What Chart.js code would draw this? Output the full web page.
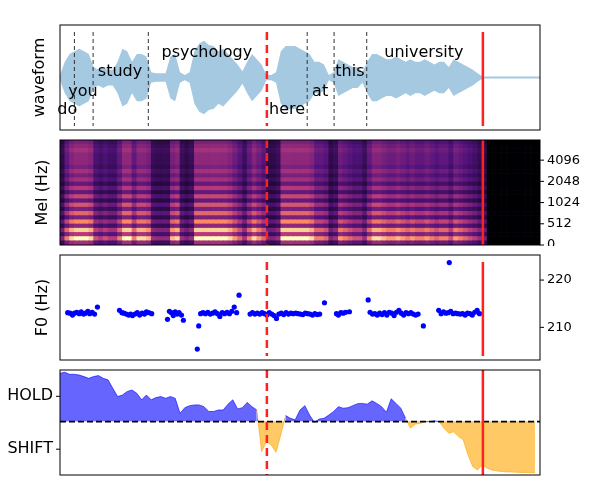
<!DOCTYPE html>
<html>
<head>
<meta charset="utf-8">
<script src="https://cdn.jsdelivr.net/npm/chart.js@4"></script>
<style>
  body { margin: 0; background: #fff; }
  #wrap { position: relative; width: 600px; height: 500px; }
  .panel { position: absolute; left: 0; width: 600px; }
</style>
</head>
<body>
<div id="wrap">
  <div class="panel" style="top:24px;height:107px"><canvas id="wave"></canvas></div>
  <div class="panel" style="top:139px;height:107px"><canvas id="mel"></canvas></div>
  <div class="panel" style="top:251px;height:113px"><canvas id="f0"></canvas></div>
  <div class="panel" style="top:369px;height:107px"><canvas id="vad"></canvas></div>
</div>
<script>
// time axis: 0..100 frames across each panel
const waveEnvelope = [0.05,0.3,0.45,0.5,0.55,0.5,0.45,0.2,0.15,0.2,0.15,0.15,0.3,0.55,0.5,0.3,0.45,0.45,0.4,0.1,
  0.08,0.08,0.08,0.4,0.45,0.1,0.05,0.1,0.5,0.65,0.7,0.62,0.6,0.5,0.55,0.45,0.35,0.25,0.12,0.3,
  0.45,0.35,0.25,0.05,0.05,0.1,0.5,0.6,0.6,0.6,0.55,0.5,0.45,0.3,0.3,0.25,0.05,0.1,0.35,0.3,
  0.25,0.2,0.2,0.1,0.3,0.45,0.45,0.4,0.35,0.35,0.4,0.35,0.3,0.35,0.3,0.3,0.35,0.3,0.25,0.3,
  0.3,0.2,0.35,0.3,0.25,0.2,0.15,0.08,0.02,0.02,0.02,0.02,0.02,0.02,0.02,0.02,0.02,0.02,0.02,0.02,0.02];

const words = ['do', 'you', 'study', 'psychology', 'here', 'at', 'this', 'university'];
const wordX = [1.5, 4.8, 12.5, 30.6, 47.3, 54.2, 60.4, 75.8];
const wordY = [-0.62, -0.28, 0.1, 0.47, -0.62, -0.28, 0.1, 0.47];
const wordBounds = [3.0, 6.9, 18.4, 51.5, 57.1, 63.9];

const currentFrame = 43.1;
const endFrame = 88.1;

const melTickLabels = ['0', '512', '1024', '2048', '4096'];
const melRowProfile = [0.45,1.0,0.5,0.9,0.4,0.75,0.35,0.65,0.35,0.6,0.3,0.55,0.3,0.5,0.3,0.45,0.35,0.45,0.35,0.4,0.4,0.4,0.45,0.4,0.35];

const f0Ticks = [210, 220];
const f0Points = [
  [1.6,213.1],[2.1,213.0],[2.6,212.6],[3.0,213.0],[3.5,213.2],[4.0,212.9],[4.4,213.3],[4.9,212.8],[5.3,213.0],[5.8,213.4],[6.2,212.9],[6.7,213.2],[7.2,212.8],[7.8,214.3],
  [12.4,213.6],[12.9,213.1],[13.3,213.0],[13.8,212.8],[14.3,212.6],[14.7,212.8],[15.1,212.5],[15.6,212.8],[16.1,213.1],[16.6,212.6],[17.1,213.0],[17.6,212.8],[18.0,213.3],[18.5,213.1],[19.1,212.9],
  [22.4,211.7],[22.8,213.4],[23.2,213.1],[23.6,212.5],[24.0,213.3],[24.4,212.8],[24.8,213.1],[25.3,212.6],[25.7,211.5],
  [28.6,205.4],[28.9,210.3],[29.3,212.9],[29.8,213.1],[30.3,212.9],[30.8,213.2],[31.3,212.8],[31.8,213.0],[32.3,213.3],[32.8,212.9],[33.3,212.3],[33.8,213.1],[34.3,212.9],[34.8,213.2],[35.3,212.9],[35.8,213.4],[36.3,214.3],[36.8,213.1],[37.3,216.8],
  [39.6,212.8],[40.1,213.1],[40.6,212.8],[41.1,213.0],[41.6,212.8],[42.1,213.1],[42.6,212.9],[43.1,212.6],[43.6,213.1],[44.1,212.8],[44.6,212.5],[45.1,211.9],[45.6,212.8],[46.1,213.0],[46.6,212.7],[47.1,213.1],[47.6,212.8],[48.1,213.0],[48.6,212.9],[49.1,213.0],[49.6,212.9],[50.1,212.8],[50.6,212.7],[51.1,213.0],[51.6,212.9],[52.1,212.8],[52.6,212.6],[53.1,212.9],[53.6,212.7],[54.1,212.8],[55.1,215.2],
  [57.6,212.9],[58.0,212.6],[58.5,213.1],[59.0,213.0],[59.5,213.2],[60.3,213.3],
  [64.2,215.8],[64.6,213.2],[65.1,212.8],[65.6,212.9],[66.1,212.6],[66.6,213.0],[67.1,212.7],[67.6,213.1],[68.1,212.6],[68.6,213.2],[69.1,213.0],[69.6,212.5],[70.1,213.2],[70.6,213.6],[71.1,213.0],[71.6,212.6],[72.1,213.1],[72.6,212.9],[73.1,213.1],[73.6,212.8],[74.1,212.6],[74.6,212.8],[75.7,210.3],
  [78.9,213.6],[79.4,212.9],[79.9,213.3],[80.4,213.0],[80.9,213.1],[81.1,223.7],[81.4,213.4],[81.9,212.9],[82.4,213.0],[82.9,212.9],[83.4,212.8],[83.9,212.9],[84.4,212.6],[84.9,213.0],[85.4,212.9],[85.9,212.6],[86.4,213.2],[86.9,213.6],[87.4,212.9]
];

const holdShiftTicks = ['HOLD', 'SHIFT'];
const holdShiftTickValues = [1, -1.09];
const holdShift = [1.91,1.95,1.87,1.87,1.84,1.78,1.71,1.78,1.82,1.71,1.65,1.32,0.99,1.05,1.19,1.25,1.12,0.86,1.05,0.86,
  0.95,0.99,0.92,0.99,0.92,0.33,0.55,0.63,0.66,0.66,0.59,0.4,0.4,0.46,0.46,0.69,0.86,0.5,0.55,0.76,
  0.59,0.46,-1.19,-0.79,-0.92,-1.21,-0.53,0.24,0.13,0.07,0.46,0.63,0.26,-0.03,0.1,0.13,0.26,0.4,0.59,0.53,
  0.55,0.63,0.71,0.72,0.69,0.82,0.72,0.59,0.37,0.9,0.72,0.53,0.13,-0.26,-0.1,-0.07,0,0,0.03,0,
  -0.26,-0.46,-0.4,-0.59,-0.72,-1.32,-1.78,-1.91,-1.71,-1.84,-1.91,-1.95,-1.97,-1.99,-1.99,-2.0,-2.01,-2.01,-2.02,-2.02];

const frames = waveEnvelope.map((_, i) => i);

const FONT = 'DejaVu Sans';
Chart.defaults.font.family = FONT;
Chart.defaults.color = '#000';
Chart.defaults.animation = false;

// side axis: fixed width, tick marks only; labels drawn by tickText so they don't pad the panel
const sideAxis = (position, extra = {}) => ({
  position, display: true,
  ticks: { display: false },
  grid: { display: false },
  border: { display: false },
  afterFit: s => { s.width = 60; },
  ...extra
});

// frame, vertical markers, y label and tick labels
const decorations = (label, inset, tickText) => ({
  id: 'decorations',
  afterDatasetsDraw(chart) {
    const { ctx, chartArea: a, scales } = chart;
    const x = scales.x;
    const top = a.top + inset[0], bottom = a.bottom - inset[1];
    const vline = (u, color, width, dash) => {
      const px = x.getPixelForValue(u);
      ctx.save();
      ctx.strokeStyle = color; ctx.lineWidth = width; ctx.setLineDash(dash);
      ctx.beginPath(); ctx.moveTo(px, top); ctx.lineTo(px, bottom); ctx.stroke();
      ctx.restore();
    };
    if (chart.canvas.id === 'wave') wordBounds.forEach(u => vline(u, '#333', 1, [4, 3]));
    vline(currentFrame, '#ff2020', 2.5, [8, 5]);
    vline(endFrame, '#ff2020', 2.5, []);
    ctx.save();
    ctx.strokeStyle = '#000'; ctx.lineWidth = 1;
    ctx.strokeRect(a.left, a.top, a.width, a.height);
    if (tickText) {
      const s = scales[tickText.axis];
      ctx.font = tickText.size + 'px ' + FONT; ctx.textBaseline = 'middle';
      ctx.textAlign = tickText.side === 'right' ? 'left' : 'right';
      tickText.values.forEach((v, i) => {
        const py = s.getPixelForValue(v);
        const edge = tickText.side === 'right' ? a.right : a.left;
        const dir = tickText.side === 'right' ? 1 : -1;
        ctx.beginPath(); ctx.moveTo(edge, py); ctx.lineTo(edge + dir * 4, py); ctx.stroke();
        ctx.fillText(tickText.labels[i], edge + dir * 7, py);
      });
    }
    if (label) {
      ctx.translate(label[1], (a.top + a.bottom) / 2);
      ctx.rotate(-Math.PI / 2);
      ctx.font = '16px ' + FONT; ctx.textAlign = 'center'; ctx.textBaseline = 'middle';
      ctx.fillText(label[0], 0, 0);
    }
    ctx.restore();
  }
});

const wordLabels = {
  id: 'wordLabels',
  afterDatasetsDraw(chart) {
    const { ctx, scales: { x, y } } = chart;
    ctx.save();
    ctx.font = '16px ' + FONT; ctx.textAlign = 'center'; ctx.textBaseline = 'middle';
    words.forEach((w, i) => ctx.fillText(w, x.getPixelForValue(wordX[i]), y.getPixelForValue(wordY[i])));
    ctx.restore();
  }
};

const xAxis = { type: 'linear', min: 0, max: 100, display: false, offset: false };
const baseOpts = (scales) => ({
  responsive: true, maintainAspectRatio: false,
  layout: { padding: { top: 1, bottom: 1, left: 0, right: 0 } },
  plugins: { legend: { display: false }, tooltip: { enabled: false } },
  scales
});

// waveform
new Chart(document.getElementById('wave'), {
  type: 'line',
  data: {
    datasets: [
      { data: waveEnvelope.map((v, i) => ({ x: i, y: v })), borderWidth: 0, pointRadius: 0, fill: '+1', backgroundColor: 'rgb(165,201,225)', tension: 0 },
      { data: waveEnvelope.map((v, i) => ({ x: i, y: -v })), borderWidth: 0, pointRadius: 0, fill: false }
    ]
  },
  options: baseOpts({
    x: xAxis,
    y: sideAxis('left', { min: -1, max: 1 }),
    y2: sideAxis('right')
  }),
  plugins: [wordLabels, decorations(['waveform', 40], [7, 4])]
});

// mel spectrogram as stacked cells
const magma = [[0,0,4],[81,18,124],[183,55,121],[252,137,97],[252,253,191]];
const magmaColor = t => {
  t = Math.max(0, Math.min(1, t)) * 4;
  const i = Math.min(3, Math.floor(t)), f = t - i;
  const c = magma[i].map((v, k) => Math.round(v + (magma[i + 1][k] - v) * f));
  return `rgb(${c[0]},${c[1]},${c[2]})`;
};
const melTop = 4.95;
const rowH = melTop / melRowProfile.length;
const colEnergy = waveEnvelope.map((v, i) => i >= endFrame ? 0 : Math.min(1, 0.3 + v * 1.4));
new Chart(document.getElementById('mel'), {
  type: 'bar',
  data: {
    datasets: melRowProfile.map(p => ({
      data: frames.map(i => ({ x: i + 0.5, y: rowH })),
      backgroundColor: frames.map(i => magmaColor(colEnergy[i] * p)),
      barPercentage: 1, categoryPercentage: 1, borderWidth: 0, yAxisID: 'y2'
    }))
  },
  options: baseOpts({
    x: { ...xAxis, stacked: true },
    y: sideAxis('left', { min: 0, max: melTop }),
    y2: sideAxis('right', { stacked: true, min: 0, max: melTop })
  }),
  plugins: [decorations(['Mel (Hz)', 43], [0, 0],
    { axis: 'y2', side: 'right', size: 13, values: melTickLabels.map((_, i) => i), labels: melTickLabels })]
});

// F0
new Chart(document.getElementById('f0'), {
  type: 'scatter',
  data: { datasets: [{ data: f0Points.map(p => ({ x: p[0], y: p[1] })), pointRadius: 2.6, backgroundColor: '#0000ff', borderWidth: 0, yAxisID: 'y2' }] },
  options: baseOpts({
    x: xAxis,
    y: sideAxis('left', { min: 203.1, max: 225.3 }),
    y2: sideAxis('right', { min: 203.1, max: 225.3 })
  }),
  plugins: [decorations(['F0 (Hz)', 43], [7, 4],
    { axis: 'y2', side: 'right', size: 13, values: f0Ticks, labels: f0Ticks.map(String) })]
});

// HOLD / SHIFT
const zeroLine = {
  id: 'zeroLine',
  afterDatasetsDraw(chart) {
    const { ctx, chartArea: a, scales: { y } } = chart;
    const py = y.getPixelForValue(0);
    ctx.save();
    ctx.strokeStyle = '#000'; ctx.lineWidth = 1.6; ctx.setLineDash([6, 3]);
    ctx.beginPath(); ctx.moveTo(a.left, py); ctx.lineTo(a.right, py); ctx.stroke();
    ctx.restore();
  }
};
new Chart(document.getElementById('vad'), {
  type: 'line',
  data: {
    datasets: [{
      data: holdShift.map((v, i) => ({ x: i, y: v })),
      pointRadius: 0, borderWidth: 1, tension: 0,
      segment: { borderColor: c => (c.p0.parsed.y + c.p1.parsed.y) >= 0 ? 'rgba(0,0,255,0.6)' : 'rgba(255,165,0,0.6)' },
      fill: { target: 'origin', above: 'rgba(0,0,255,0.6)', below: 'rgba(255,165,0,0.6)' }
    }]
  },
  options: baseOpts({
    x: xAxis,
    y: sideAxis('left', { min: -2.11, max: 2.04 }),
    y2: sideAxis('right')
  }),
  plugins: [zeroLine, decorations(null, [0, 0],
    { axis: 'y', side: 'left', size: 16, values: holdShiftTickValues, labels: holdShiftTicks })]
});
</script>
</body>
</html>
